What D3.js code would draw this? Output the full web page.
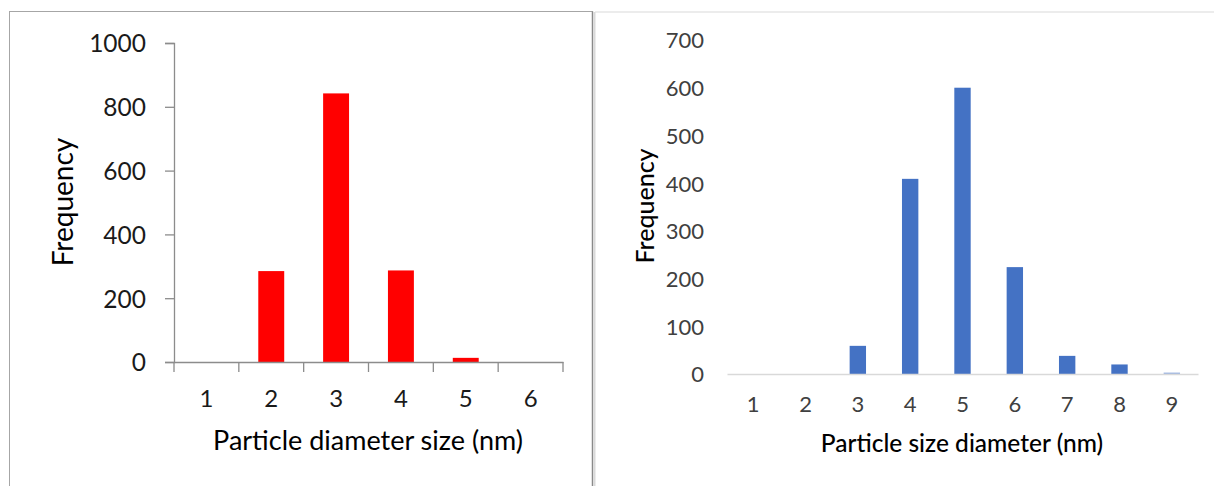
<!DOCTYPE html>
<html>
<head>
<meta charset="utf-8">
<script src="https://cdn.jsdelivr.net/npm/d3@7"></script>
<style>
  html, body { margin: 0; padding: 0; background: #fff; }
  svg { display: block; }
  text { font-family: Lato, "Open Sans", sans-serif; }
</style>
</head>
<body>
<svg id="chart" width="1214" height="486"></svg>
<script>
// ---- Data ----
const leftCategories = ["1", "2", "3", "4", "5", "6"];
const leftValues = [0, 285, 842, 287, 13, 0];
const leftYTicks = [0, 200, 400, 600, 800, 1000];

const rightCategories = ["1", "2", "3", "4", "5", "6", "7", "8", "9"];
const rightValues = [0, 0, 59, 409, 600, 224, 38, 20, 3];
const rightYTicks = [0, 100, 200, 300, 400, 500, 600, 700];

const leftXTitle = "Particle diameter size (nm)";
const rightXTitle = "Particle size diameter (nm)";
const yTitle = "Frequency";

const svg = d3.select("#chart");

// ---- Frames ----
svg.append("rect").attr("x", 9.5).attr("y", 11.5).attr("width", 583).attr("height", 500)
  .attr("fill", "none").attr("stroke", "#a6a6a6").attr("stroke-width", 1);
svg.append("line").attr("x1", 592.5).attr("x2", 592.5).attr("y1", 11.5).attr("y2", 486)
  .attr("stroke", "#8a8a8a").attr("stroke-width", 1.5);
svg.append("rect").attr("x", 593.5).attr("y", 12).attr("width", 2).attr("height", 474).attr("fill", "#d9d9d9");
svg.append("line").attr("x1", 595).attr("x2", 1214).attr("y1", 12).attr("y2", 12)
  .attr("stroke", "#d9d9d9").attr("stroke-width", 1.2);

// ---- Left chart ----
(function () {
  const x = d3.scaleBand().domain(leftCategories).range([174, 563]).paddingInner(0.6).paddingOuter(0.3);
  const y = d3.scaleLinear().domain([0, 1000]).range([362, 43]);
  const axisColor = "#8c8c8c";
  const g = svg.append("g");

  g.selectAll("rect.bar").data(leftValues).join("rect").attr("class", "bar")
    .attr("x", (d, i) => x(leftCategories[i]))
    .attr("width", x.bandwidth())
    .attr("y", d => y(d))
    .attr("height", d => y(0) - y(d))
    .attr("fill", "#ff0000");

  const ya = g.append("g").attr("transform", "translate(174,0)")
    .call(d3.axisLeft(y).tickValues(leftYTicks).tickSize(9).tickPadding(19).tickFormat(d3.format("d")));
  ya.select(".domain").attr("stroke", axisColor).attr("stroke-width", 1.3);
  ya.selectAll(".tick line").attr("stroke", axisColor).attr("stroke-width", 1.3);
  ya.selectAll(".tick text").attr("fill", "#1a1a1a").style("font-size", "24.5px").attr("dy", "0.36em");

  const xa = g.append("g").attr("transform", "translate(0,362)")
    .call(d3.axisBottom(x).tickSize(0).tickPadding(28));
  xa.select(".domain").attr("stroke", axisColor).attr("stroke-width", 1.3);
  xa.selectAll(".tick text").attr("fill", "#1a1a1a").style("font-size", "24px");
  const bounds = d3.range(leftCategories.length + 1).map(i => x.range()[0] + i * x.step());
  g.selectAll("line.bt").data(bounds).join("line").attr("class", "bt")
    .attr("x1", d => d).attr("x2", d => d).attr("y1", 362).attr("y2", 372)
    .attr("stroke", axisColor).attr("stroke-width", 1.3);

  g.append("text").attr("x", 368).attr("y", 450).attr("text-anchor", "middle")
    .attr("fill", "#000").style("font-size", "27px").text(leftXTitle);
  g.append("text").attr("transform", "translate(73,202) rotate(-90)").attr("text-anchor", "middle")
    .attr("fill", "#000").style("font-size", "28px").text(yTitle);
})();

// ---- Right chart ----
(function () {
  const x = d3.scaleBand().domain(rightCategories).range([727, 1198]).paddingInner(0.687).paddingOuter(0.3435);
  const y = d3.scaleLinear().domain([0, 700]).range([374, 40]);
  const g = svg.append("g");

  g.selectAll("rect.bar").data(rightValues).join("rect").attr("class", "bar")
    .attr("x", (d, i) => x(rightCategories[i]))
    .attr("width", x.bandwidth())
    .attr("y", d => y(d))
    .attr("height", d => y(0) - y(d))
    .attr("fill", (d, i) => i === rightValues.length - 1 ? "#9db4e0" : "#4472c4");

  const ya = g.append("g").attr("transform", "translate(727,0)")
    .call(d3.axisLeft(y).tickValues(rightYTicks).tickSize(0).tickPadding(23).tickFormat(d3.format("d")));
  ya.select(".domain").remove();
  ya.selectAll(".tick text").attr("fill", "#404040").style("font-size", "22px").attr("dy", "0.36em");

  const xa = g.append("g").attr("transform", "translate(0,374)")
    .call(d3.axisBottom(x).tickSize(0).tickPadding(22));
  xa.select(".domain").attr("stroke", "#d9d9d9").attr("stroke-width", 1.5);
  xa.selectAll(".tick text").attr("fill", "#404040").style("font-size", "22px");

  g.append("text").attr("x", 962).attr("y", 452).attr("text-anchor", "middle")
    .attr("fill", "#000").style("font-size", "24.5px").style("font-weight", "500").text(rightXTitle);
  g.append("text").attr("transform", "translate(654,206) rotate(-90)").attr("text-anchor", "middle")
    .attr("fill", "#000").style("font-size", "25px").style("font-weight", "500").text(yTitle);
})();
</script>
</body>
</html>
